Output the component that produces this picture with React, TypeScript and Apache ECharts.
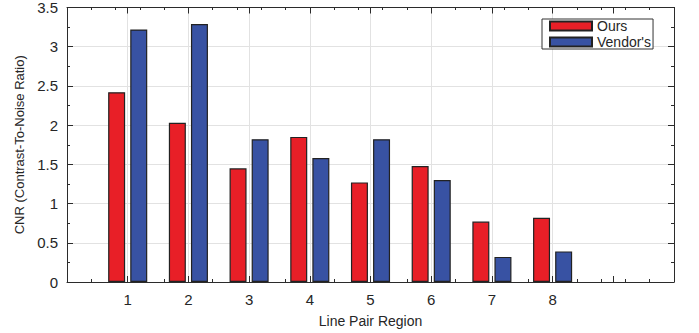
import React, { useEffect, useRef } from "react";
import * as echarts from "echarts";

const regions = [1, 2, 3, 4, 5, 6, 7, 8];
const ours = [2.42, 2.03, 1.45, 1.85, 1.27, 1.48, 0.77, 0.82];
const vendors = [3.22, 3.29, 1.82, 1.58, 1.82, 1.3, 0.32, 0.39];
const seriesNames = ["Ours", "Vendor's"];

const TXT = "#262626";
const AX = "#2b2b2b";
const GRID = "#e2e2e2";
const FONT = "'Liberation Sans', Arial, Helvetica, sans-serif";

export default function App() {
  const ref = useRef<HTMLDivElement>(null);
  useEffect(() => {
    if (!ref.current) return;
    const chart = echarts.init(ref.current, null, { renderer: "svg" });
    const W = 699;
    const gridRect = { left: 67, right: 25, top: 7, bottom: 51 };
    const plotW = W - gridRect.left - gridRect.right;
    const xMax = 10;
    const unit = plotW / xMax;
    const first = regions[0];
    const last = regions[regions.length - 1];
    const barStyle = (color: string) => ({ color, borderColor: "#222", borderWidth: 1.2 });
    const minorAxis = (position: string) => ({
      type: "value",
      gridIndex: 1,
      position,
      min: 0,
      max: xMax,
      interval: 0.4,
      axisLine: { show: false, onZero: false },
      axisTick: { show: true, inside: true, length: 3, lineStyle: { color: AX } },
      axisLabel: { show: false },
      splitLine: { show: false },
    });
    chart.setOption({
      animation: false,
      textStyle: { fontFamily: FONT, color: TXT },
      grid: [
        { ...gridRect },
        { ...gridRect },
        {
          top: gridRect.top,
          bottom: gridRect.bottom,
          left: gridRect.left + first * unit,
          right: gridRect.right + (xMax - last) * unit,
        },
      ],
      legend: {
        orient: "vertical",
        left: 542,
        top: 19,
        itemWidth: 42,
        itemHeight: 9,
        itemGap: 2,
        padding: [0, 2, 0, 7],
        borderColor: "#333",
        borderWidth: 1,
        backgroundColor: "#fff",
        icon: "rect",
        textStyle: { fontSize: 14, lineHeight: 14, color: TXT, fontFamily: FONT },
        data: seriesNames,
      },
      xAxis: [
        {
          type: "value",
          gridIndex: 0,
          position: "bottom",
          min: 0,
          max: xMax,
          interval: 1,
          name: "Line Pair Region",
          nameLocation: "middle",
          nameGap: 32,
          nameTextStyle: { fontSize: 14, color: TXT, fontFamily: FONT },
          axisLine: { show: true, lineStyle: { color: AX, width: 1 } },
          axisTick: { show: true, inside: true, length: 6, lineStyle: { color: AX } },
          axisLabel: { show: true, customValues: regions, fontSize: 15, color: TXT, margin: 10, fontFamily: FONT },
          splitLine: { show: false },
        },
        {
          type: "value",
          gridIndex: 0,
          position: "top",
          min: 0,
          max: xMax,
          interval: 1,
          axisLine: { show: true, onZero: false, lineStyle: { color: AX, width: 1 } },
          axisTick: { show: true, inside: true, length: 6, lineStyle: { color: AX } },
          axisLabel: { show: false },
          splitLine: { show: false },
        },
        minorAxis("bottom"),
        minorAxis("top"),
        {
          type: "value",
          gridIndex: 2,
          position: "bottom",
          min: first,
          max: last,
          interval: 1,
          axisLine: { show: false, onZero: false },
          axisTick: { show: false },
          axisLabel: { show: false },
          splitLine: { show: true, lineStyle: { color: GRID, width: 1 } },
          z: 0,
        },
      ],
      yAxis: [
        {
          type: "value",
          gridIndex: 0,
          position: "left",
          min: 0,
          max: 3.5,
          interval: 0.5,
          name: "CNR (Contrast-To-Noise Ratio)",
          nameLocation: "middle",
          nameGap: 40,
          nameTextStyle: { fontSize: 13, color: TXT, fontFamily: FONT },
          axisLine: { show: true, onZero: false, lineStyle: { color: AX, width: 1 } },
          axisTick: { show: true, inside: true, length: 6, lineStyle: { color: AX } },
          minorTick: { show: true, splitNumber: 2, length: 3, lineStyle: { color: AX } },
          axisLabel: { fontSize: 15, color: TXT, margin: 9, fontFamily: FONT },
          splitLine: { show: true, lineStyle: { color: GRID, width: 1 } },
        },
        {
          type: "value",
          gridIndex: 0,
          position: "right",
          min: 0,
          max: 3.5,
          interval: 0.5,
          axisLine: { show: true, onZero: false, lineStyle: { color: AX, width: 1 } },
          axisTick: { show: true, inside: true, length: 6, lineStyle: { color: AX } },
          minorTick: { show: true, splitNumber: 2, length: 3, lineStyle: { color: AX } },
          axisLabel: { show: false },
          splitLine: { show: false },
        },
        { type: "value", gridIndex: 1, min: 0, max: 3.5, show: false },
        {
          type: "value",
          gridIndex: 2,
          min: 0,
          max: 3.5,
          axisLine: { show: false, onZero: false },
          axisTick: { show: false },
          axisLabel: { show: false },
          splitLine: { show: false },
        },
      ],
      series: [
        {
          name: seriesNames[0],
          type: "bar",
          xAxisIndex: 0,
          yAxisIndex: 0,
          barWidth: 17,
          barGap: "30%",
          itemStyle: barStyle("#e81f27"),
          data: regions.map((r, i) => [r, ours[i]]),
          z: 3,
        },
        {
          name: seriesNames[1],
          type: "bar",
          xAxisIndex: 0,
          yAxisIndex: 0,
          barWidth: 17,
          barGap: "30%",
          itemStyle: barStyle("#3852a3"),
          data: regions.map((r, i) => [r, vendors[i]]),
          z: 3,
        },
      ],
    });
    return () => chart.dispose();
  }, []);
  return <div ref={ref} style={{ width: 699, height: 333, position: "absolute", left: 0, top: 0, background: "#fff" }} />;
}
